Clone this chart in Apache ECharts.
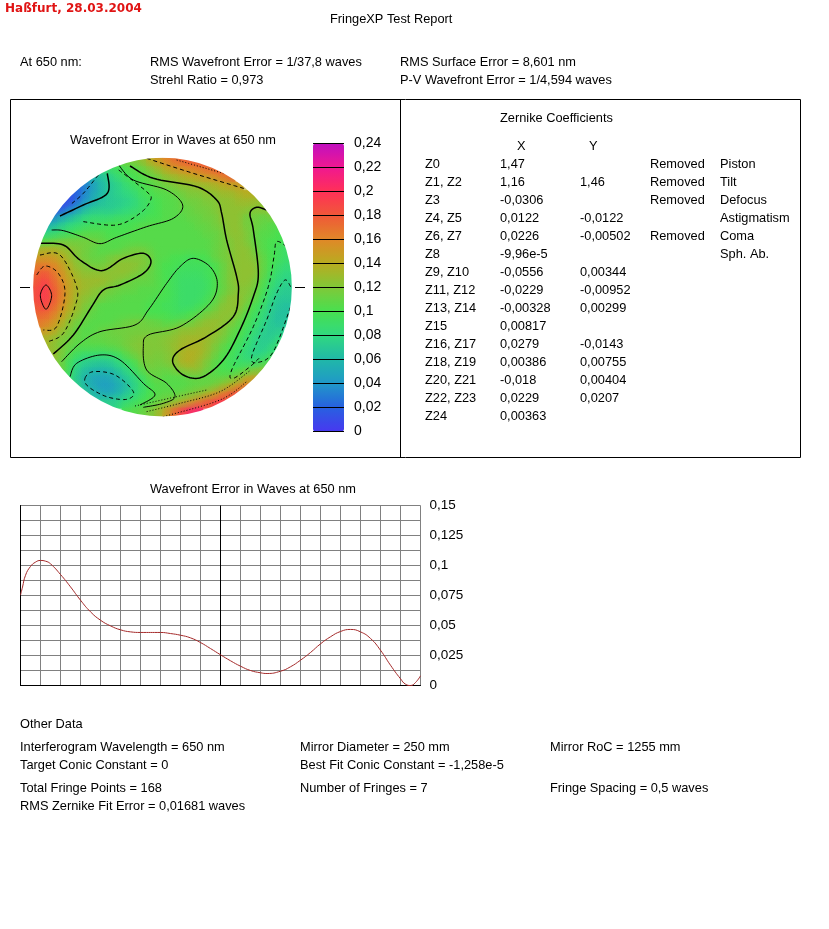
<!DOCTYPE html>
<html><head><meta charset="utf-8">
<style>html,body{margin:0;padding:0;background:#fff}#c{width:829px;height:929px}</style>
<script src="https://cdn.jsdelivr.net/npm/echarts@6/dist/echarts.min.js"></script>
</head><body><div id="c"></div>
<script>
const _ = null;
// ---------- data ----------
const reportTitle = 'Haßfurt, 28.03.2004';
const zernikeRows = [
 ['Z0','1,47','','Removed','Piston'],
 ['Z1, Z2','1,16','1,46','Removed','Tilt'],
 ['Z3','-0,0306','','Removed','Defocus'],
 ['Z4, Z5','0,0122','-0,0122','','Astigmatism'],
 ['Z6, Z7','0,0226','-0,00502','Removed','Coma'],
 ['Z8','-9,96e-5','','','Sph. Ab.'],
 ['Z9, Z10','-0,0556','0,00344','',''],
 ['Z11, Z12','-0,0229','-0,00952','',''],
 ['Z13, Z14','-0,00328','0,00299','',''],
 ['Z15','0,00817','','',''],
 ['Z16, Z17','0,0279','-0,0143','',''],
 ['Z18, Z19','0,00386','0,00755','',''],
 ['Z20, Z21','-0,018','0,00404','',''],
 ['Z22, Z23','0,0229','0,0207','',''],
 ['Z24','0,00363','','','']
];
const profileX = [0,0.1,0.25,0.5,0.75,1,1.25,1.5,2,2.5,3,3.5,4,4.5,5,5.5,6,7,7.5,8,8.5,9,9.5,10,10.5,11,11.5,12,12.33,13,13.5,14,14.5,15,15.5,16,16.5,17,17.5,18,18.5,19,19.25,19.5,19.75,20];
const profileY = [.0753,.082,.0918,.0992,.1028,.1042,.1036,.1014,.0925,.0822,.0711,.0614,.0544,.0497,.0464,.0447,.0442,.0442,.0433,.0419,.0397,.0358,.0308,.0256,.0206,.0161,.0125,.0106,.01,.0119,.0156,.0211,.0275,.0347,.0406,.045,.0467,.0447,.0392,.0294,.0169,.0056,.0011,0,.0025,.0081];
const scaleColors = ['#4838f0','#2860e0','#2098c8','#20b8a8','#30d880','#48e050','#80c838','#b8ac20','#e08828','#f05838','#ff3058','#f01890','#c010c0'];
// wavefront map, thousandths of a wave, 32 x 32 cells
const waveRows = [
[_,_,_,_,_,_,_,_,_,_,110,115,120,125,140,150,160,170,175,180,180,185,_,_,_,_,_,_,_,_,_,_],
[_,_,_,_,_,_,_,_,85,90,95,100,105,110,120,130,140,150,155,160,165,170,175,180,_,_,_,_,_,_,_,_],
[_,_,_,_,_,_,50,60,65,75,85,95,100,105,110,115,125,130,135,140,145,150,155,165,175,_,_,_,_,_,_,_],
[_,_,_,_,_,25,30,45,60,70,75,85,95,100,105,110,115,120,125,125,130,130,135,140,145,150,_,_,_,_,_,_],
[_,_,_,_,15,20,35,50,60,70,75,80,85,95,100,105,105,110,115,120,120,125,125,130,130,135,140,140,_,_,_,_],
[_,_,_,10,10,25,40,55,65,70,72,75,80,90,95,100,105,105,110,115,115,120,120,125,125,130,130,130,125,_,_,_],
[_,_,15,15,30,45,60,70,72,72,75,80,85,90,95,100,105,105,110,110,115,115,120,125,125,125,125,120,125,125,_,_],
[_,30,35,50,60,70,80,85,85,85,90,90,95,95,100,100,105,105,105,110,110,115,115,125,125,125,115,115,110,115,_,_],
[_,50,60,70,80,85,90,95,95,100,100,100,100,105,105,105,105,105,105,105,110,110,115,120,125,125,115,115,110,105,105,_],
[_,80,85,90,95,100,105,105,105,100,100,100,105,105,105,105,105,105,105,105,105,110,110,115,125,125,120,110,105,105,100,_],
[100,105,110,115,115,115,115,115,110,105,105,105,105,105,105,105,105,105,105,105,105,105,110,115,120,125,120,110,105,100,100,95],
[135,135,135,130,125,120,115,110,105,105,105,110,115,115,110,105,105,105,105,105,105,105,110,115,120,125,125,115,105,100,95,90],
[150,150,150,140,130,120,115,110,110,115,120,120,120,120,115,105,105,100,100,95,100,100,110,115,120,125,125,120,110,100,95,90],
[165,165,160,150,135,125,120,115,115,120,125,125,125,120,115,105,100,100,95,95,95,95,100,110,120,125,125,125,110,100,90,85],
[175,180,170,155,140,130,125,125,125,125,125,125,120,115,110,105,100,95,92,92,92,95,100,110,120,125,125,125,110,95,85,80],
[180,190,175,160,145,135,130,130,130,125,120,115,110,110,110,105,100,95,90,90,90,92,100,110,120,125,125,120,105,90,80,75],
[185,195,180,165,145,135,130,125,120,115,112,110,110,105,105,105,100,95,90,90,90,92,100,110,118,122,122,115,100,85,75,72],
[185,195,180,165,145,130,125,120,115,110,108,105,105,105,105,100,100,95,90,90,90,95,105,115,125,125,120,110,95,80,70,70],
[180,190,175,160,140,130,120,112,105,105,105,105,105,105,100,100,95,95,90,90,95,100,110,122,125,125,115,100,90,75,68,65],
[175,175,165,150,135,125,115,108,105,105,105,105,105,105,100,100,100,95,95,100,105,115,120,125,125,120,105,95,85,72,65,65],
[165,165,155,140,125,115,110,105,105,105,108,112,115,115,112,110,105,105,110,112,120,125,128,125,120,110,100,90,80,70,65,70],
[_,150,145,130,120,110,105,105,110,112,115,115,115,115,115,115,115,120,125,125,128,130,128,122,112,105,95,85,75,70,72,_],
[_,135,130,120,115,110,105,110,110,112,112,115,118,120,120,120,122,125,130,132,132,130,125,118,108,100,90,80,72,72,80,_],
[_,135,125,118,112,105,105,105,105,108,110,115,120,122,120,120,122,128,132,135,135,130,120,110,100,95,85,78,72,78,90,_],
[_,_,130,120,105,95,90,90,88,90,95,105,115,120,120,118,120,125,135,138,135,128,115,105,98,90,82,75,78,88,_,_],
[_,_,125,115,95,82,75,72,70,72,80,90,100,115,118,115,118,125,135,138,130,120,108,100,95,90,88,88,95,105,_,_],
[_,_,_,115,95,75,65,60,58,60,68,78,90,105,115,112,110,115,122,125,125,115,105,100,98,100,110,115,125,_,_,_],
[_,_,_,_,90,70,58,50,48,50,58,68,80,92,105,110,105,105,105,108,110,108,108,110,115,125,140,150,_,_,_,_],
[_,_,_,_,95,75,62,52,45,45,52,62,75,88,100,105,105,105,105,108,110,112,118,128,140,155,170,_,_,_,_,_],
[_,_,_,_,_,85,72,62,55,52,58,68,80,90,100,105,108,108,112,118,125,135,148,165,180,190,_,_,_,_,_,_],
[_,_,_,_,_,_,_,_,75,75,78,85,92,100,105,112,118,125,135,150,165,180,190,200,_,_,_,_,_,_,_,_],
[_,_,_,_,_,_,_,_,_,_,_,100,105,110,118,128,145,170,190,205,210,_,_,_,_,_,_,_,_,_,_,_]
];
// contour traces on the map
const contourA = [[330,108],[400,145],[530,170],[590,210],[605,250],[620,330],[650,440],[655,490],[640,560],[560,620],[480,660],[458,695],[490,735],[545,742],[610,690],[660,600],[700,500],[715,430],[700,300],[690,250],[710,232],[740,240]];
const contourB = [[296,105],[340,150],[440,180],[488,225],[460,265],[380,290],[290,322],[240,341],[190,322],[130,302],[95,300]];
const contourC = [[296,120],[380,185],[392,210],[360,250],[290,285],[190,275]];
const contourD = [[262,130],[262,190],[190,225],[120,258]];
const contourE = [[235,135],[190,190],[150,225]];
const contourF = [[60,340],[130,345],[180,390],[245,422],[310,385],[370,370],[393,395],[370,430],[300,465],[250,480],[215,530],[160,615],[100,672]];
const contourG = [[125,695],[180,640],[240,605],[345,585],[385,540],[440,460],[480,410],[520,385],[570,410],[592,460],[570,520],[480,590],[385,615],[370,650],[380,720],[440,760],[465,800],[430,820],[370,832]];
const contourH = [[150,740],[170,700],[240,675],[300,690],[370,760],[405,795],[360,825]];
const contourI = [[195,745],[220,725],[285,735],[340,785],[320,808],[260,800],[205,770],[195,745]];
const contourJ = [[800,350],[770,335],[762,380],[745,470],[700,590],[635,720],[640,745],[690,710],[722,680]];
const contourK = [[812,470],[795,450],[770,490],[740,570],[695,680],[715,697],[760,665],[812,530]];
const contourL = [[78,465],[95,497],[78,538],[61,497],[78,465]];
const contourM = [[50,435],[75,408],[115,430],[135,490],[110,590],[70,600]];
const contourN = [[60,375],[120,375],[170,470],[165,530],[130,610],[85,635]];
const contourO = [[380,85],[520,130],[680,178]];
const contourP = [[470,90],[610,130]];
const contourQ = [[430,860],[600,810],[680,755]];
const contourR = [[380,845],[480,820],[600,785],[690,722]];
const contourS = [[345,828],[470,800],[560,780]];
const contourList = [contourA,contourB,contourC,contourD,contourE,contourF,contourG,contourH,contourI,contourJ,contourK,contourL,contourM,contourN,contourO,contourP,contourQ,contourR,contourS];
const contourWidths = [1.5,1,1,1.5,1,1.5,1,1,1,1,1,1,1,1,1,1,1,1,1];
const contourDash = ['solid','solid','dashed','solid','dashed','solid','solid','solid','dashed','dashed','dashed','solid','dashed','dashed','dashed','dotted','dotted','dotted','dotted'];

// ---------- layout ----------
const FONT = '"Liberation Sans",Arial,sans-serif';
const T = (text,x,y,extra)=>({type:'text',z:20,style:Object.assign({text,x,y:y+1,fill:'#000',font:'12.8px '+FONT,textVerticalAlign:'middle',textBaseline:'middle'},extra||{})});
const L = (x1,y1,x2,y2)=>({type:'line',z:20,shape:{x1,y1,x2,y2},style:{stroke:'#000',lineWidth:1}});
const graphics = [
 T(reportTitle,5,8,{font:'bold 12px "DejaVu Sans"',fill:'#e01414'}),
 T('FringeXP Test Report',330,18),
 T('At 650 nm:',20,61),
 T('RMS Wavefront Error = 1/37,8 waves',150,61),
 T('Strehl Ratio = 0,973',150,79),
 T('RMS Surface Error = 8,601 nm',400,61),
 T('P-V Wavefront Error = 1/4,594 waves',400,79),
 T('Wavefront Error in Waves at 650 nm',70,139),
 T('Zernike Coefficients',500,117),
 T('X',517,145),T('Y',589,145),
 T('Wavefront Error in Waves at 650 nm',150,488),
 T('Other Data',20,723),
 T('Interferogram Wavelength = 650 nm',20,746),
 T('Target Conic Constant = 0',20,764),
 T('Total Fringe Points = 168',20,787),
 T('RMS Zernike Fit Error = 0,01681 waves',20,805),
 T('Mirror Diameter = 250 mm',300,746),
 T('Best Fit Conic Constant = -1,258e-5',300,764),
 T('Number of Fringes = 7',300,787),
 T('Mirror RoC = 1255 mm',550,746),
 T('Fringe Spacing = 0,5 waves',550,787),
 {type:'rect',z:19,shape:{x:10.5,y:99.5,width:790,height:358},style:{fill:'none',stroke:'#000',lineWidth:1}},
 L(400.5,99.5,400.5,457.5),
 L(20,287.5,30,287.5),L(295,287.5,305,287.5)
];
const colX = [425,500,580,650,720];
zernikeRows.forEach((row,i)=>row.forEach((s,j)=>{ if(s) graphics.push(T(s,colX[j],163+18*i)); }));

const waveData = [];
waveRows.forEach((row,j)=>row.forEach((v,i)=>{
  if(v!==null) waveData.push([40+(i+.5)*775/32, 85+(j+.5)*773/32, v/1000]);
}));
const dashOf = {solid:null,dashed:[4,3],dotted:[1,2]};

function curvePoints(pts){
  // Catmull-Rom drawing of a traced contour
  const closed = pts[0][0]===pts[pts.length-1][0] && pts[0][1]===pts[pts.length-1][1];
  const n = pts.length, out = [pts[0]];
  const get = i => closed ? pts[((i%(n-1))+(n-1))%(n-1)] : pts[Math.max(0,Math.min(n-1,i))];
  for(let i=0;i<n-1;i++){
    const a=get(i-1),b=get(i),c=get(i+1),d=get(i+2);
    for(let s=1;s<=10;s++){
      const t=s/10,t2=t*t,t3=t2*t;
      out.push([0,1].map(k=>.5*(2*b[k]+(c[k]-a[k])*t+(2*a[k]-5*b[k]+4*c[k]-d[k])*t2+(3*b[k]-a[k]-3*c[k]+d[k])*t3)));
    }
  }
  return out;
}

const series = [
 {name:'profile',type:'line',xAxisIndex:0,yAxisIndex:0,data:profileX.map((x,i)=>[x,profileY[i]]),smooth:true,showSymbol:false,
  lineStyle:{color:'#a52a2a',width:1},z:5,
  markLine:{silent:true,symbol:'none',label:{show:false},lineStyle:{color:'#000',width:1,type:'solid'},data:[{xAxis:10}],animation:false}},
 {name:'wave',type:'custom',xAxisIndex:1,yAxisIndex:1,data:waveData,clip:false,z:1,encode:{x:0,y:1},
  renderItem:(p,api)=>{
    const c=api.coord([api.value(0),api.value(1)]);const s=api.size([775/32,773/32]);
    return {type:'rect',shape:{x:c[0]-s[0]/2-.4,y:c[1]-s[1]/2-.4,width:s[0]+.8,height:s[1]+.8},style:{fill:api.visual('color')}};
  }},
 {name:'waveSoft',type:'custom',xAxisIndex:1,yAxisIndex:1,data:waveData,clip:false,z:1.5,silent:true,encode:{x:0,y:1},
  renderItem:(p,api)=>{
    const c=api.coord([api.value(0),api.value(1)]);const s=api.size([775/32,773/32]);
    const col=api.visual('color');
    return {type:'circle',shape:{cx:c[0],cy:c[1],r:s[0]*1.5},style:{fill:new echarts.graphic.RadialGradient(.5,.5,.5,[
      {offset:0,color:echarts.color.modifyAlpha(col,.7)},{offset:.5,color:echarts.color.modifyAlpha(col,.3)},{offset:1,color:echarts.color.modifyAlpha(col,0)}])}};
  }},
 {name:'contours',type:'custom',xAxisIndex:1,yAxisIndex:1,data:contourList.map((pts,k)=>[pts[0][0],pts[0][1],k]),clip:false,z:2,silent:true,encode:{x:0,y:1},
  renderItem:(p,api)=>{
    const k=api.value(2);
    const px=curvePoints(contourList[k]).map(q=>api.coord(q));
    return {type:'polyline',shape:{points:px},
      style:{fill:null,stroke:'#000',lineWidth:contourWidths[k],lineDash:dashOf[contourDash[k]]}};
  }},
 {name:'mask',type:'custom',xAxisIndex:1,yAxisIndex:1,data:[[427.5,471.5]],clip:false,z:3,silent:true,encode:{x:0,y:1},
  renderItem:(p,api)=>{
    const c=api.coord([api.value(0),api.value(1)]);const r=api.size([388,0])[0];
    return {type:'ring',shape:{cx:c[0],cy:c[1],r:r+21,r0:r},style:{fill:'#fff'}};
  }}
];

const chart = echarts.init(document.getElementById('c'),null,{renderer:'canvas'});
chart.setOption({
 animation:false,backgroundColor:'#fff',
 grid:[
  {left:20.5,top:505.5,width:400,height:180,show:false},
  {left:33.33,top:158.33,width:258.33,height:257.67,show:false},
  {left:313,top:143.5,width:31,height:288,show:false}
 ],
 xAxis:[
  {type:'value',gridIndex:0,min:0,max:20,interval:1,axisLabel:{show:false},axisTick:{show:false},
   axisLine:{show:true,onZero:false,lineStyle:{color:'#000'}},splitLine:{show:true,lineStyle:{color:'#808080',width:1}}},
  {type:'value',gridIndex:1,min:40,max:815,show:false,splitLine:{show:false}},
  {type:'value',gridIndex:2,min:0,max:1,show:false,splitLine:{show:false}}
 ],
 yAxis:[
  {type:'value',gridIndex:0,position:'right',min:0,max:.15,interval:.0125,axisTick:{show:false},
   axisLine:{show:true,lineStyle:{color:'#000'}},splitLine:{show:true,lineStyle:{color:'#808080',width:1}},
   axisLabel:{margin:9,color:'#000',fontFamily:FONT,fontSize:13.5,padding:[2,0,0,0],formatter:v=>Math.round(v/.0125)%2?'':String(+v.toFixed(4)).replace('.',',')}},
  {type:'value',gridIndex:1,min:85,max:858,inverse:true,show:false,splitLine:{show:false}},
  {type:'value',gridIndex:2,position:'right',min:0,max:.24,interval:.02,z:10,axisTick:{show:false},axisLine:{show:false},
   splitLine:{show:true,lineStyle:{color:'#000',width:1}},
   axisLabel:{margin:10,color:'#000',fontFamily:FONT,fontSize:14,padding:[2,0,0,0],formatter:v=>String(+v.toFixed(2)).replace('.',',')}}
 ],
 visualMap:{type:'continuous',seriesIndex:[1,2],dimension:2,min:0,max:.24,left:313,top:143.5,itemWidth:31,itemHeight:288,padding:0,text:null,
  calculable:false,hoverLink:false,showLabel:false,inRange:{color:scaleColors},z:1},
 graphic:graphics,
 series
});
</script></body></html>
